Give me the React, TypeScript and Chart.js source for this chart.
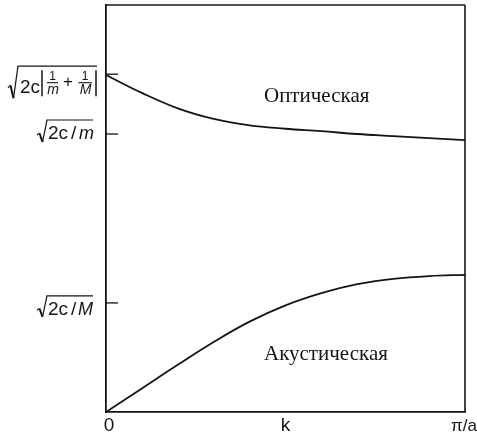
import React, { useEffect, useRef } from "react";
import { Chart, registerables } from "chart.js";

Chart.register(...registerables);

// Wave number k in units of π/a
const kValues = [0, 0.1, 0.2, 0.3, 0.4, 0.5, 0.6, 0.7, 0.8, 0.9, 1.0];
// Optical branch frequency (arbitrary units, axis runs 0..10)
const opticalBranch = [8.28, 7.84, 7.46, 7.2, 7.04, 6.96, 6.9, 6.83, 6.78, 6.73, 6.68];
// Acoustic branch frequency
const acousticBranch = [0, 0.58, 1.16, 1.72, 2.22, 2.62, 2.92, 3.14, 3.27, 3.34, 3.37];

// Characteristic frequencies marked on the vertical axis
const freqOpticalMax = 8.3;
const freqLightMass = 6.83;
const freqHeavyMass = 2.68;

// Horizontal axis labels
const kTickValues = [0, 0.5, 1];
const kTickLabels = ["0", "k", "π/a"];

const branchNames = ["Оптическая", "Акустическая"];

const INK = "#141414";
const SANS = "'Liberation Sans', Arial, sans-serif";
const SERIF = "'Liberation Serif', 'Times New Roman', serif";

function radical(ctx: CanvasRenderingContext2D, x0: number, yTop: number, yBottom: number, xEnd: number) {
  const h = yBottom - yTop;
  ctx.beginPath();
  ctx.lineWidth = 1.2;
  ctx.moveTo(x0, yBottom - h * 0.32);
  ctx.lineTo(x0 + 2.5, yBottom - h * 0.4);
  ctx.stroke();
  ctx.beginPath();
  ctx.lineWidth = 2;
  ctx.moveTo(x0 + 2.5, yBottom - h * 0.4);
  ctx.lineTo(x0 + 5.5, yBottom);
  ctx.stroke();
  ctx.beginPath();
  ctx.lineWidth = 1.2;
  ctx.moveTo(x0 + 5.5, yBottom);
  ctx.lineTo(x0 + 10, yTop);
  ctx.lineTo(xEnd, yTop);
  ctx.stroke();
}

function line(ctx: CanvasRenderingContext2D, x1: number, y1: number, x2: number, y2: number, w: number) {
  ctx.beginPath();
  ctx.lineWidth = w;
  ctx.moveTo(x1, y1);
  ctx.lineTo(x2, y2);
  ctx.stroke();
}

const annotationPlugin = {
  id: "dispersionAnnotations",
  afterDraw(chart: any) {
    const { ctx, chartArea, scales } = chart;
    const xs = scales.x;
    const ys = scales.y;
    ctx.save();
    ctx.strokeStyle = INK;
    ctx.fillStyle = INK;

    // top and right edges of the frame
    line(ctx, chartArea.left, chartArea.top, chartArea.right, chartArea.top, 1.6);
    line(ctx, chartArea.right, chartArea.top, chartArea.right, chartArea.bottom, 1.6);

    // inward tick marks
    [freqOpticalMax, freqLightMass, freqHeavyMass].forEach((v) => {
      const y = ys.getPixelForValue(v);
      line(ctx, chartArea.left, y, chartArea.left + 12, y, 1.3);
    });

    // sqrt(2c |1/m + 1/M|)
    {
      const T = ys.getPixelForValue(freqOpticalMax);
      radical(ctx, 8, T - 8, T + 24, 97);
      ctx.textBaseline = "alphabetic";
      ctx.textAlign = "left";
      ctx.font = `19px ${SANS}`;
      ctx.fillText("2c", 20, T + 18.5);
      line(ctx, 42, T - 4, 42, T + 22, 1.5);
      line(ctx, 96, T - 4, 96, T + 22, 1.5);
      ctx.textAlign = "center";
      ctx.font = `12px ${SANS}`;
      ctx.fillText("1", 52.5, T + 5.5);
      ctx.fillText("1", 85, T + 5.5);
      line(ctx, 47, T + 8.5, 58, T + 8.5, 1.1);
      line(ctx, 78.5, T + 8.5, 92, T + 8.5, 1.1);
      ctx.font = `italic 14px ${SANS}`;
      ctx.fillText("m", 53, T + 20);
      ctx.fillText("M", 85.5, T + 20);
      ctx.font = `17px ${SANS}`;
      ctx.textBaseline = "middle";
      ctx.fillText("+", 68, T + 8.5);
    }

    // sqrt(2c/m)
    {
      const T = ys.getPixelForValue(freqLightMass);
      radical(ctx, 37, T - 14, T + 8, 93);
      ctx.textBaseline = "alphabetic";
      ctx.textAlign = "left";
      ctx.font = `19px ${SANS}`;
      ctx.fillText("2c", 48, T + 5);
      ctx.fillText("/", 71, T + 5);
      ctx.font = `italic 18px ${SANS}`;
      ctx.fillText("m", 79, T + 5);
    }

    // sqrt(2c/M)
    {
      const T = ys.getPixelForValue(freqHeavyMass);
      radical(ctx, 37, T - 7, T + 14, 93);
      ctx.textBaseline = "alphabetic";
      ctx.textAlign = "left";
      ctx.font = `19px ${SANS}`;
      ctx.fillText("2c", 48, T + 12);
      ctx.fillText("/", 71, T + 12);
      ctx.font = `italic 18px ${SANS}`;
      ctx.fillText("M", 78, T + 12);
    }

    // k-axis labels
    ctx.textAlign = "center";
    ctx.textBaseline = "alphabetic";
    const labelShift = [3, 0, -1];
    kTickValues.forEach((v, i) => {
      const x = xs.getPixelForValue(v) + labelShift[i];
      ctx.font = i === 2 ? `17px ${SANS}` : `19px ${SANS}`;
      ctx.fillText(kTickLabels[i], x, chartArea.bottom + 19);
    });

    // branch names
    ctx.textAlign = "left";
    ctx.font = `21px ${SERIF}`;
    ctx.fillText(branchNames[0], xs.getPixelForValue(0.44), ys.getPixelForValue(7.62));
    ctx.fillText(branchNames[1], xs.getPixelForValue(0.44), ys.getPixelForValue(1.28));

    ctx.restore();
  },
};

export default function App() {
  const canvasRef = useRef<HTMLCanvasElement | null>(null);

  useEffect(() => {
    if (!canvasRef.current) return;
    const chart = new Chart(canvasRef.current, {
      type: "line",
      data: {
        datasets: [
          {
            label: branchNames[0],
            data: kValues.map((k, i) => ({ x: k, y: opticalBranch[i] })),
            borderColor: INK,
            borderWidth: 1.8,
            pointRadius: 0,
            tension: 0.4,
            fill: false,
          },
          {
            label: branchNames[1],
            data: kValues.map((k, i) => ({ x: k, y: acousticBranch[i] })),
            borderColor: INK,
            borderWidth: 1.8,
            pointRadius: 0,
            tension: 0.4,
            fill: false,
          },
        ],
      },
      options: {
        animation: false,
        responsive: false,
        maintainAspectRatio: false,
        layout: { padding: { left: 106, right: 12, top: 5, bottom: 27 } },
        plugins: {
          legend: { display: false },
          tooltip: { enabled: false },
        },
        scales: {
          x: {
            type: "linear",
            min: 0,
            max: 1,
            ticks: { display: false },
            grid: { display: false, drawTicks: false },
            border: { display: true, color: INK, width: 1.8 },
          },
          y: {
            type: "linear",
            min: 0,
            max: 10,
            ticks: { display: false },
            grid: { display: false, drawTicks: false },
            border: { display: true, color: INK, width: 1.8 },
          },
        },
      },
      plugins: [annotationPlugin],
    });
    return () => chart.destroy();
  }, []);

  return (
    <div style={{ position: "fixed", left: 0, top: 0, width: 477, height: 439, background: "#fff" }}>
      <canvas ref={canvasRef} width={477} height={439} style={{ width: 477, height: 439, display: "block" }} />
    </div>
  );
}
